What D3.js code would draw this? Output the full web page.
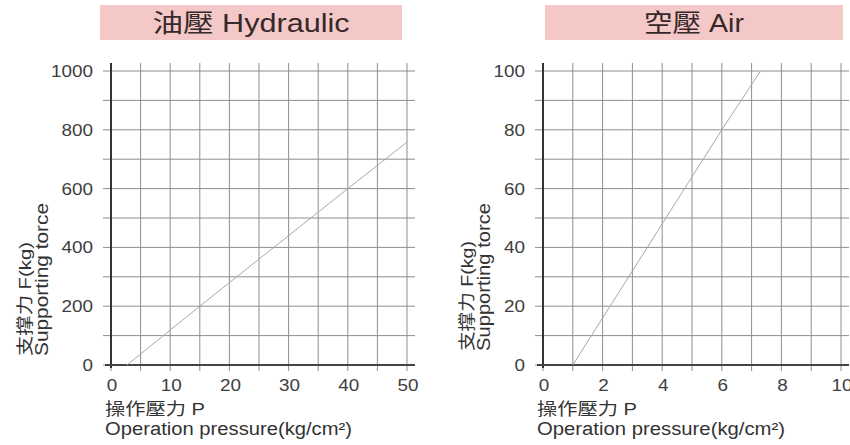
<!DOCTYPE html>
<html>
<head>
<meta charset="utf-8">
<script src="https://cdn.jsdelivr.net/npm/d3@7"></script>
<style>
  html, body { margin: 0; padding: 0; background: #fff; }
  svg text { font-family: "Liberation Sans", Arial, "Noto Sans CJK TC", sans-serif; }
</style>
</head>
<body>
<svg id="chart" width="850" height="445"></svg>
<script>
// ---- data ----
const hydTitle = "油壓 Hydraulic";
const airTitle = "空壓 Air";
const hydPressure = [2.7, 15, 40, 50];
const hydForce = [0, 200, 600, 758];
const airPressure = [1, 4, 6, 7.3];
const airForce = [0, 48, 80, 100];
const hydXTicks = [0, 10, 20, 30, 40, 50];
const hydYTicks = [0, 200, 400, 600, 800, 1000];
const airXTicks = [0, 2, 4, 6, 8, 10];
const airYTicks = [0, 20, 40, 60, 80, 100];
const yTitle1 = "支撑力 F(kg)";
const yTitle2 = "Supporting torce";
const xTitle1 = "操作壓力 P";
const xTitle2 = "Operation pressure(kg/cm²)";

const svg = d3.select("#chart");
const STRETCH = 1.18;

function stretch(sel, factor) {
  sel.each(function() {
    const len = this.getComputedTextLength();
    d3.select(this).attr("textLength", len * (factor || STRETCH)).attr("lengthAdjust", "spacingAndGlyphs");
  });
  return sel;
}

function panel(cfg) {
  const x = d3.scaleLinear().domain(cfg.xDomain).range(cfg.xRange);
  const y = d3.scaleLinear().domain(cfg.yDomain).range([365, 71]);
  const g = svg.append("g");

  // title box
  g.append("rect")
    .attr("x", cfg.box[0]).attr("y", 5)
    .attr("width", cfg.box[1] - cfg.box[0]).attr("height", 35)
    .attr("fill", "#f5c8c8");
  g.append("text")
    .attr("x", (cfg.box[0] + cfg.box[1]) / 2).attr("y", 32)
    .attr("text-anchor", "middle")
    .attr("font-size", 25)
    .attr("fill", "#35282b")
    .attr("textLength", cfg.titleLen).attr("lengthAdjust", "spacingAndGlyphs")
    .text(cfg.title);

  const x0 = cfg.xRange[0], x1 = cfg.xRange[1];
  const gridTicksX = x.ticks(10);
  const gridTicksY = y.ticks(10);

  // grid lines
  g.append("g").selectAll("line").data(gridTicksY).join("line")
    .attr("x1", x0 - 8).attr("x2", x1 + 8)
    .attr("y1", d => y(d)).attr("y2", d => y(d))
    .attr("stroke", "#8e8e8e").attr("stroke-width", 1);
  g.append("g").selectAll("line").data(gridTicksX).join("line")
    .attr("x1", d => x(d)).attr("x2", d => x(d))
    .attr("y1", 63).attr("y2", 371)
    .attr("stroke", "#8e8e8e").attr("stroke-width", 1);

  // axes
  g.append("line").attr("x1", x0).attr("x2", x0).attr("y1", 63).attr("y2", 368)
    .attr("stroke", "#333").attr("stroke-width", 2);
  g.append("line").attr("x1", x0 - 6).attr("x2", x1 + 8).attr("y1", y(0)).attr("y2", y(0))
    .attr("stroke", "#444").attr("stroke-width", 2);

  // data line
  const pts = cfg.px.map((p, i) => [p, cfg.py[i]]);
  g.append("path").datum(pts)
    .attr("d", d3.line().x(d => x(d[0])).y(d => y(d[1])))
    .attr("fill", "none").attr("stroke", "#a8a8a8").attr("stroke-width", 1);

  // tick labels
  const yl = g.append("g").selectAll("text").data(cfg.yTicks).join("text")
    .attr("x", x0 - 18).attr("y", d => y(d) + 6)
    .attr("text-anchor", "end").attr("font-size", 16).attr("fill", "#3e3e3e")
    .text(d => d);
  stretch(yl);
  const xl = g.append("g").selectAll("text").data(cfg.xTicks).join("text")
    .attr("x", d => x(d) + 1).attr("y", 391)
    .attr("text-anchor", "middle").attr("font-size", 16).attr("fill", "#3e3e3e")
    .text(d => d);
  stretch(xl);

  // x titles
  g.append("text").attr("x", x0 - 6).attr("y", 415)
    .attr("font-size", 17).attr("fill", "#333")
    .attr("textLength", 100).attr("lengthAdjust", "spacingAndGlyphs")
    .text(xTitle1);
  g.append("text").attr("x", x0 - 6).attr("y", 435)
    .attr("font-size", 18).attr("fill", "#333")
    .attr("textLength", cfg.xt2Len).attr("lengthAdjust", "spacingAndGlyphs")
    .text(xTitle2);

  // y titles
  const yt = g.append("g").attr("transform", `translate(${cfg.yTitleX},${cfg.yTitleBottom}) rotate(-90)`);
  yt.append("text").attr("x", 0).attr("y", 0)
    .attr("font-size", 17).attr("fill", "#333")
    .attr("textLength", cfg.yt1Len).attr("lengthAdjust", "spacingAndGlyphs")
    .text(yTitle1);
  yt.append("text").attr("x", 0).attr("y", 17)
    .attr("font-size", 18).attr("fill", "#333")
    .attr("textLength", cfg.yt2Len).attr("lengthAdjust", "spacingAndGlyphs")
    .text(yTitle2);
}

panel({
  title: hydTitle, titleLen: 197, box: [100, 402],
  xDomain: [0, 50], xRange: [111, 407], yDomain: [0, 1000],
  px: hydPressure, py: hydForce, xTicks: hydXTicks, yTicks: hydYTicks,
  yTitleX: 31, yTitleBottom: 356, yt1Len: 114, yt2Len: 153, xt2Len: 247
});
panel({
  title: airTitle, titleLen: 100, box: [545, 843],
  xDomain: [0, 10], xRange: [543, 841], yDomain: [0, 100],
  px: airPressure, py: airForce, xTicks: airXTicks, yTicks: airYTicks,
  yTitleX: 473, yTitleBottom: 351, yt1Len: 110, yt2Len: 148, xt2Len: 248
});
</script>
</body>
</html>
